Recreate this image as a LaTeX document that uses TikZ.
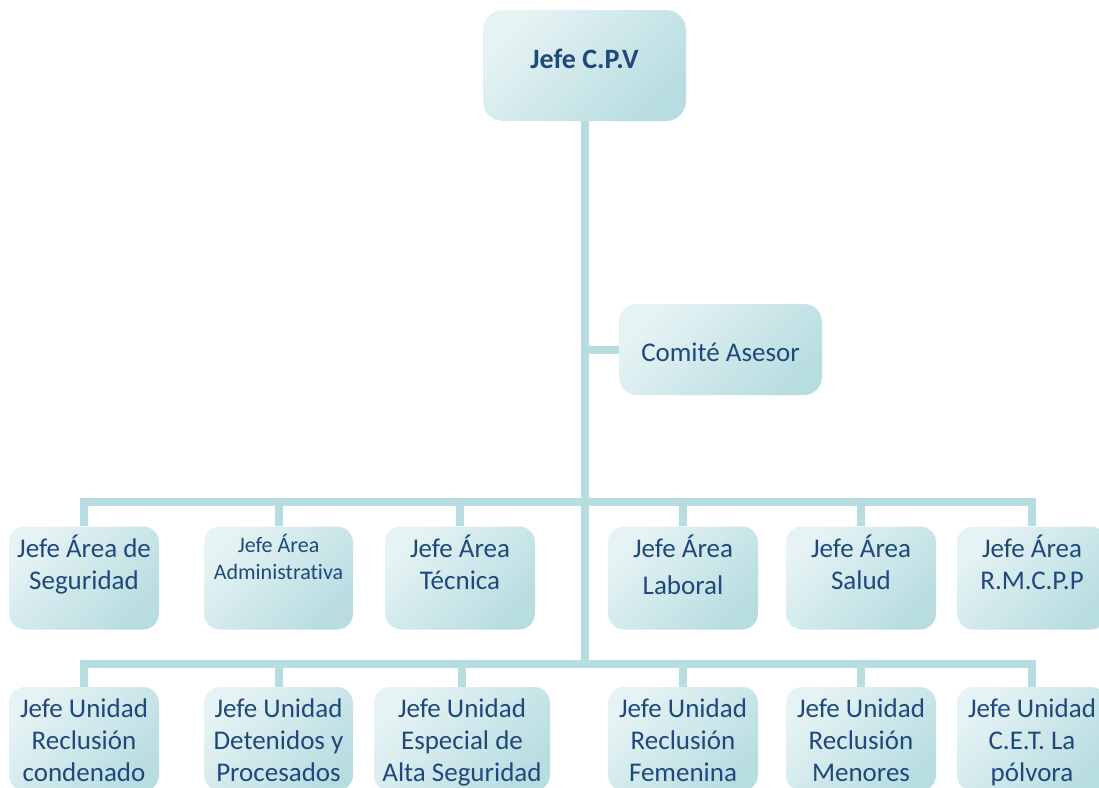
\documentclass[tikz,border=0pt]{standalone}
\usepackage{fontspec}
\setmainfont{Carlito}[Ligatures=CommonOff]
\usetikzlibrary{backgrounds,calc}
\definecolor{linec}{HTML}{B8DDE0}
\definecolor{boxL}{HTML}{E6F3F4}
\definecolor{boxM}{HTML}{E2F1F3}
\definecolor{boxD}{HTML}{B8DDE1}
\definecolor{txtc}{HTML}{1F497D}
\tikzset{
  box/.style={rounded corners=16pt, inner sep=0pt, shading=axis, top color=boxL,
    middle color=boxM, bottom color=boxD, shading angle=45},
  conn/.style={draw=linec, line width=8pt, line join=miter},
  txt/.style={text=txtc, align=center, inner sep=0pt, anchor=base,
    font=\fontsize{27}{32}\selectfont},
  smalltxt/.style={txt, font=\fontsize{22}{27}\selectfont},
}
\begin{document}
\begin{tikzpicture}[x=1pt,y=-1pt]
\clip (0,0) rectangle (1099,787);
% boxes
\node[box, minimum width=203pt, minimum height=111pt, rounded corners=20pt] (top) at (584.5,65.5) {};
\node[box, minimum width=203pt, minimum height=91pt, rounded corners=18pt] (com) at (720.5,349.5) {};
\foreach \n/\x/\w in {a1/84/150, a2/278.5/149, a3/460/150, a4/683/150, a5/861/150, a6/1032/150}{
  \node[box, minimum width=\w pt, minimum height=103pt] (\n) at (\x,578) {};
}
\foreach \n/\x/\w in {b1/84/150, b2/278.5/149, b3/462/176, b4/683/150, b5/861/150, b6/1032/150}{
  \node[box, minimum width=\w pt, minimum height=104pt] (\n) at (\x,739) {};
}
% texts (anchor = baseline of last line)
\node[txt, font=\fontsize{28}{32}\selectfont\bfseries] (ttop) at ($(top.north)+(0,59)$) {Jefe C.P.V};
\node[txt] (tcom) at ($(com.north)+(0,58)$) {Comité Asesor};
\node[txt] (ta1) at ($(a1.north)+(0,63.5)$) {Jefe Área de\\Seguridad};
\node[smalltxt] (ta2) at ($(a2.north)+(0,53.5)$) {Jefe Área\\Administrativa};
\node[txt] (ta3) at ($(a3.north)+(0,63.5)$) {Jefe Área\\Técnica};
\node[txt] (ta4) at ($(a4.north)+(0,68.5)$) {Jefe Área\\[5pt]Laboral};
\node[txt] (ta5) at ($(a5.north)+(0,63.5)$) {Jefe Área\\Salud};
\node[txt] (ta6) at ($(a6.north)+(0,63.5)$) {Jefe Área\\R.M.C.P.P};
\node[txt] (tb1) at ($(b1.north)+(0,95)$) {Jefe Unidad\\Reclusión\\condenado};
\node[txt] (tb2) at ($(b2.north)+(0,95)$) {Jefe Unidad\\Detenidos y\\Procesados};
\node[txt] (tb3) at ($(b3.north)+(0,95)$) {Jefe Unidad\\Especial de\\Alta Seguridad};
\node[txt] (tb4) at ($(b4.north)+(0,95)$) {Jefe Unidad\\Reclusión\\Femenina};
\node[txt] (tb5) at ($(b5.north)+(0,95)$) {Jefe Unidad\\Reclusión\\Menores};
\node[txt] (tb6) at ($(b6.north)+(0,95)$) {Jefe Unidad\\C.E.T. La\\pólvora};
% connectors
\coordinate (bar1) at (584.5,502);
\coordinate (bar2) at (584.5,664);
\begin{pgfonlayer}{background}
\draw[conn] (top.south) -- (bar2);
\draw[conn] (top.south |- com.west) -- (com.west);
\draw[conn] (a1.north) -- (a1.north |- bar1) -- (a6.north |- bar1) -- (a6.north);
\foreach \n in {a2,a3,a4,a5}{\draw[conn] (\n.north) -- (\n.north |- bar1);}
\draw[conn] (b1.north) -- (b1.north |- bar2) -- (b6.north |- bar2) -- (b6.north);
\foreach \n in {b2,b3,b4,b5}{\draw[conn] (\n.north) -- (\n.north |- bar2);}
\end{pgfonlayer}
\end{tikzpicture}
\end{document}
